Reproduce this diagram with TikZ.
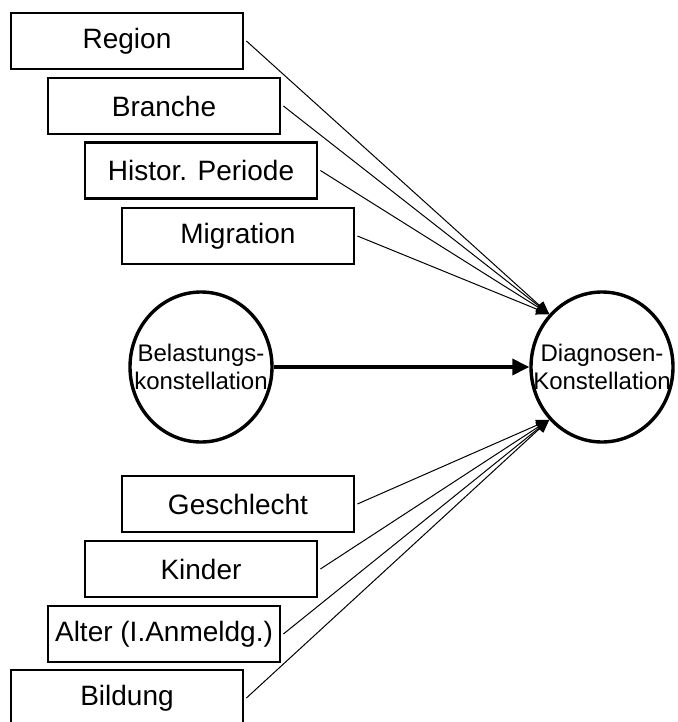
\documentclass[tikz,border=0pt]{standalone}
\usepackage{fontspec}
\setmainfont{Liberation Sans}
\usetikzlibrary{arrows.meta,shapes.geometric}
\begin{document}
\begin{tikzpicture}[x=1bp,y=-1bp,
  factor/.style={draw,line width=2.8bp,minimum width=232bp,minimum height=56bp,inner sep=0pt,
    font=\fontsize{28bp}{30bp}\selectfont},
  konst/.style={draw,ellipse,line width=3.4bp,minimum width=142bp,minimum height=150bp,inner sep=0pt},
  konsttext/.style={align=center,inner sep=0pt,font=\fontsize{24bp}{28bp}\selectfont},
  thin/.style={line width=1bp,-{Triangle[length=13bp,width=11bp]}},
  thick/.style={line width=3.6bp,-{Triangle[length=17bp,width=16bp]}}]
\useasboundingbox (0,0) rectangle (678,722);
\node[factor] (reg) at (127,41) {Region};
\node[factor] (bra) at (164,106) {Branche};
\node[factor] (his) at (201,170.5) {Histor. Periode};
\node[factor] (mig) at (238,236) {Migration};
\node[factor] (ges) at (238,504) {Geschlecht};
\node[factor] (kin) at (201,569) {Kinder};
\node[factor] (alt) at (164,634) {Alter (I.Anmeldg.)};
\node[factor] (bil) at (127,698) {Bildung};
\node[konst] (B) at (201,367) {};
\node[konsttext] (Bt) at (B.center) {Belastungs-\\konstellation};
\node[konst] (D) at (602,367) {};
\node[konsttext] (Dt) at (D.center) {Diagnosen-\\Konstellation};
\draw[thick] (B) -- (D);
\foreach \n in {reg,bra,his,mig}{\draw[thin] ([xshift=2bp]\n.east) -- (D.135);}
\foreach \n in {ges,kin,alt,bil}{\draw[thin] ([xshift=2bp]\n.east) -- (D.225);}
\end{tikzpicture}
\end{document}
